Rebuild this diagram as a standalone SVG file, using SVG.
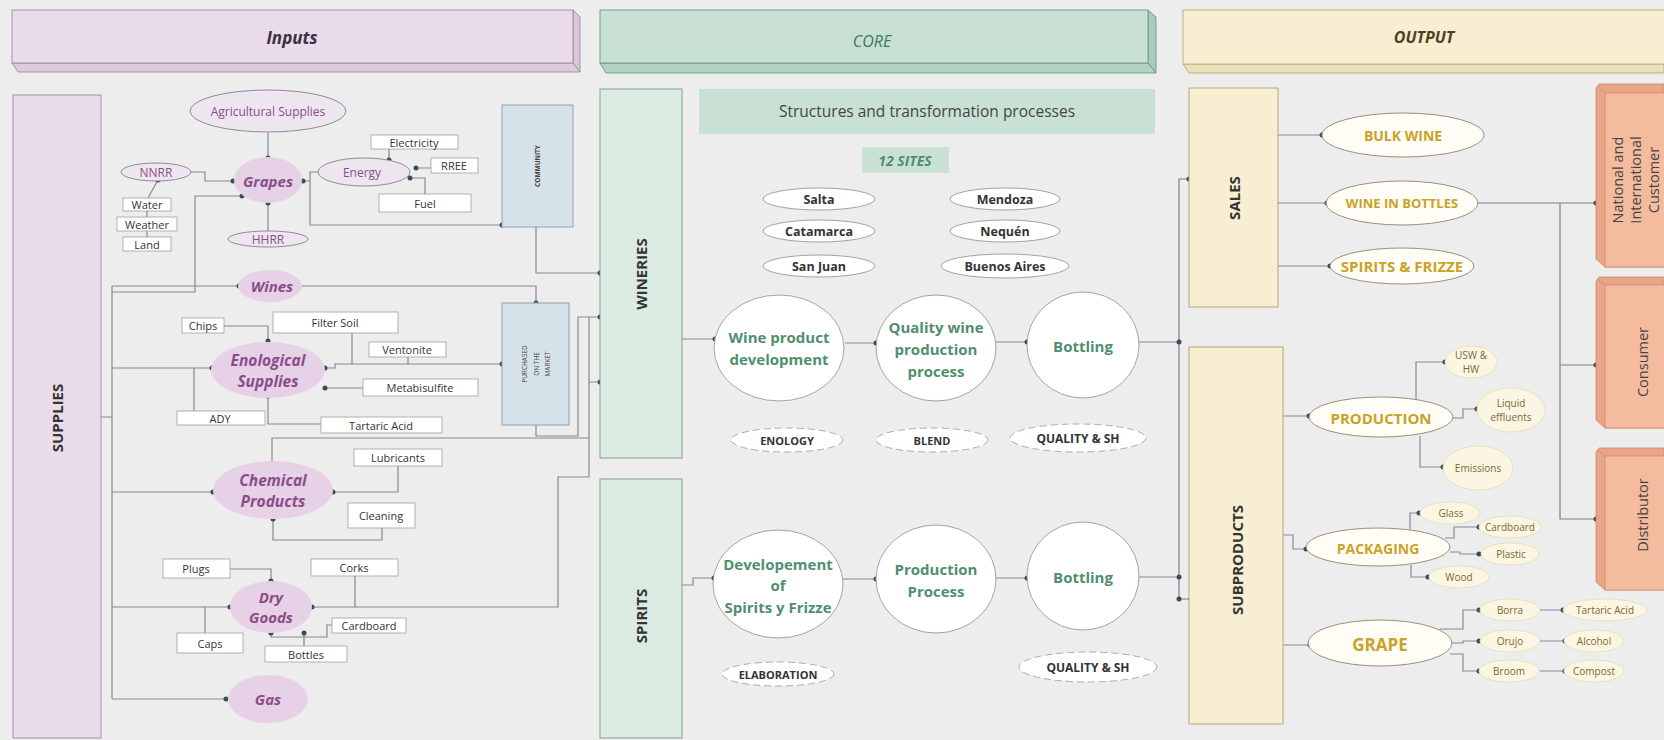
<svg xmlns="http://www.w3.org/2000/svg" width="1664" height="740" viewBox="0 0 1664 740">
<defs><style>
text{font-family:"Open Sans","Liberation Sans",sans-serif}
.w{fill:none;stroke:#858a90;stroke-width:1.2}
.wb{fill:none;stroke:#6f8193;stroke-width:1.2}
.d{fill:#3e4b57}
.bx{fill:#fff;stroke:#a0a0a0;stroke-width:0.8}
.tb{font-size:11px;fill:#333;text-anchor:middle;dominant-baseline:central}
.blob{fill:#e6d1e6}
.pi{font-size:15px;font-weight:bold;font-style:italic;fill:#8a4d8a;text-anchor:middle;dominant-baseline:central}
.po{fill:#eee6ee;stroke:#8a7a92;stroke-width:0.9}
.pt{font-size:12px;fill:#8a4d8a;text-anchor:middle;dominant-baseline:central}
.site{fill:#fff;stroke:#999;stroke-width:0.9}
.st{font-size:12.5px;font-weight:bold;fill:#333;text-anchor:middle;dominant-baseline:central}
.dash{fill:#fff;stroke:#9a9a9a;stroke-width:0.8;stroke-dasharray:7 4}
.dt{font-size:11px;font-weight:bold;fill:#333;text-anchor:middle;dominant-baseline:central}
.circ{fill:#fff;stroke:#9a9a9a;stroke-width:0.9}
.ct{font-size:15px;font-weight:bold;fill:#4f8f6e;text-anchor:middle;dominant-baseline:central}
.oe{fill:#fffdf5;stroke:#8c8470;stroke-width:0.9}
.ot{font-size:14px;font-weight:bold;fill:#c9a227;text-anchor:middle;dominant-baseline:central}
.se{fill:#fbf6e4;stroke:#e6dab0;stroke-width:0.8}
.sot{font-size:10px;fill:#7a6a30;text-anchor:middle;dominant-baseline:central}
.vt{font-size:15px;font-weight:bold;fill:#333;text-anchor:middle;dominant-baseline:central}
.cu{font-size:14.5px;fill:#444;text-anchor:middle;dominant-baseline:central}
.cf{fill:#f5bb9e;stroke:#c88a70;stroke-width:0.8}
.cb{fill:#e9a588;stroke:#c88a70;stroke-width:0.8}
.grn{fill:#c9e1d5}
.tiny{font-size:6.5px;fill:#444;text-anchor:middle;dominant-baseline:central}
</style></defs>
<rect width="1664" height="740" fill="#ededed"/>

<!-- headers -->
<g id="hdr-inputs">
<polygon points="573,10 580,17 580,72 573,63" fill="#d9c6d9" stroke="#9c8aa0" stroke-width="0.9"/>
<polygon points="12,63 573,63 580,72 18,72" fill="#ddcadd" stroke="#9c8aa0" stroke-width="0.9"/>
<rect x="12" y="10" width="561" height="53" fill="#e9dbe9" stroke="#9c8aa0" stroke-width="0.9"/>
<text x="292" y="37" style="font-size:17px;font-weight:bold;font-style:italic;fill:#3b2f45;text-anchor:middle;dominant-baseline:central">Inputs</text>
</g>
<g id="hdr-core">
<polygon points="1148,10 1156,17 1156,73 1148,63" fill="#a9cbb9" stroke="#6a9a80" stroke-width="0.9"/>
<polygon points="600,63 1148,63 1156,73 606,73" fill="#b5d3c3" stroke="#6a9a80" stroke-width="0.9"/>
<rect x="600" y="10" width="548" height="53" fill="#c8e0d4" stroke="#6a9a80" stroke-width="0.9"/>
<text x="872" y="41" style="font-size:16px;font-style:italic;fill:#3f7a5e;text-anchor:middle;dominant-baseline:central">CORE</text>
</g>
<g id="hdr-output">
<polygon points="1183,64 1664,64 1664,73 1189,73" fill="#ece0b8" stroke="#b8a880" stroke-width="0.9"/>
<rect x="1183" y="10" width="490" height="54" fill="#f8efd2" stroke="#b8a880" stroke-width="0.9"/>
<text x="1424" y="37" style="font-size:16px;font-weight:bold;font-style:italic;fill:#4d4220;text-anchor:middle;dominant-baseline:central">OUTPUT</text>
</g>

<!-- connectors -->
<g id="connectors">
<path class="w" d="M101,417H112M112,286V699"/>
<path class="w" d="M242,196H195V292H112"/>
<path class="w" d="M112,286H239"/>
<path class="w" d="M302,286H536V303"/>
<path class="w" d="M268,133V158M268,203V231"/>
<path class="w" d="M191,172H205V181H233"/>
<path class="w" d="M158,180L148,198M147,211V217M147,231V237"/>
<path class="w" d="M303,181H310V172H318"/>
<path class="w" d="M389,149V160M416,168H431M410,178H425V194"/>
<path class="w" d="M310,181V225H502"/>
<path class="w" d="M536,227V273H600"/>
<path class="w" d="M112,368H212M194,368V411"/>
<path class="w" d="M224,326H268V341"/>
<path class="w" d="M325,368H335V364H502M352,333V364M408,357V364"/>
<path class="w" d="M325,388H363"/>
<path class="w" d="M268,396V424H321"/>
<path class="w" d="M536,425V436H578V317H600M589,317V477M589,382H600"/>
<path class="w" d="M272,463V438H589"/>
<path class="w" d="M112,492H213M333,492H398V466M273,519V540H382V528"/>
<path class="w" d="M112,607H230M205,607V633M230,569H271V581M312,607H558V477H589M355,576V607"/>
<path class="w" d="M271,633V637H327V625H333M304,633V646"/>
<path class="w" d="M112,699H226"/>
<path class="w" d="M682,339H715"/>
<path class="w" d="M845,343H876M995,342H1027M1139,342H1179"/>
<path class="w" d="M682,585H693V578H714"/>
<path class="w" d="M843,579H876M995,578H1027M1139,577H1179"/>
<path class="wb" d="M1189,179H1179V599H1191"/>
<path class="w" d="M1278,135H1322M1278,203H1327M1278,266H1330"/>
<path class="wb" d="M1478,203H1596M1560,203V519H1596M1560,365H1596"/>
<path class="w" d="M1283,416H1309M1416,400V362H1445M1453,418H1463V409H1477M1420,436V467H1443"/>
<path class="w" d="M1283,535H1293V549H1306M1410,529V513H1419M1445,538H1454V527H1479M1450,552H1460V554H1479M1411,565V577H1428"/>
<path class="w" d="M1283,645H1310M1440,629H1463V610H1479M1452,643H1463V641H1479M1450,654H1463V671H1479M1540,610H1563M1540,641H1565M1540,671H1565"/>
<g>
<circle class="d" cx="233" cy="181" r="2.5"/><circle class="d" cx="303" cy="181" r="2.5"/><circle class="d" cx="268" cy="158" r="2.5"/><circle class="d" cx="268" cy="203" r="2.5"/><circle class="d" cx="242" cy="196" r="2.5"/>
<circle class="d" cx="158" cy="180" r="2.5"/><circle class="d" cx="389" cy="160" r="2.5"/><circle class="d" cx="416" cy="168" r="2.5"/><circle class="d" cx="410" cy="178" r="2.5"/>
<circle class="d" cx="502" cy="225" r="2.5"/><circle class="d" cx="239" cy="286" r="2.5"/><circle class="d" cx="536" cy="303" r="2.5"/><circle class="d" cx="502" cy="364" r="2.5"/>
<circle class="d" cx="600" cy="273" r="2.5"/><circle class="d" cx="600" cy="317" r="2.5"/><circle class="d" cx="600" cy="382" r="2.5"/>
<circle class="d" cx="268" cy="341" r="2.5"/><circle class="d" cx="212" cy="368" r="2.5"/><circle class="d" cx="325" cy="368" r="2.5"/><circle class="d" cx="325" cy="388" r="2.5"/><circle class="d" cx="268" cy="396" r="2.5"/>
<circle class="d" cx="213" cy="492" r="2.5"/><circle class="d" cx="333" cy="492" r="2.5"/><circle class="d" cx="273" cy="519" r="2.5"/>
<circle class="d" cx="271" cy="581" r="2.5"/><circle class="d" cx="230" cy="607" r="2.5"/><circle class="d" cx="312" cy="607" r="2.5"/><circle class="d" cx="271" cy="633" r="2.5"/><circle class="d" cx="304" cy="633" r="2.5"/>
<circle class="d" cx="226" cy="699" r="2.5"/>
<circle class="d" cx="715" cy="339" r="2.5"/><circle class="d" cx="876" cy="343" r="2.5"/><circle class="d" cx="1027" cy="342" r="2.5"/><circle class="d" cx="1179" cy="342" r="2.5"/>
<circle class="d" cx="714" cy="578" r="2.5"/><circle class="d" cx="876" cy="579" r="2.5"/><circle class="d" cx="1027" cy="578" r="2.5"/><circle class="d" cx="1179" cy="577" r="2.5"/>
<circle class="d" cx="1189" cy="179" r="2.5"/><circle class="d" cx="1179" cy="599" r="2.5"/><circle class="d" cx="1191" cy="599" r="2.5"/>
<circle class="d" cx="1322" cy="135" r="2.5"/><circle class="d" cx="1327" cy="203" r="2.5"/><circle class="d" cx="1330" cy="266" r="2.5"/>
<circle class="d" cx="1596" cy="203" r="2.5"/><circle class="d" cx="1596" cy="365" r="2.5"/><circle class="d" cx="1596" cy="519" r="2.5"/>
<circle class="d" cx="1309" cy="416" r="2.5"/><circle class="d" cx="1445" cy="362" r="2.5"/><circle class="d" cx="1477" cy="409" r="2.5"/><circle class="d" cx="1443" cy="467" r="2.5"/>
<circle class="d" cx="1306" cy="549" r="2.5"/><circle class="d" cx="1419" cy="513" r="2.5"/><circle class="d" cx="1479" cy="527" r="2.5"/><circle class="d" cx="1479" cy="554" r="2.5"/><circle class="d" cx="1428" cy="577" r="2.5"/>
<circle class="d" cx="1310" cy="645" r="2.5"/><circle class="d" cx="1479" cy="610" r="2.5"/><circle class="d" cx="1479" cy="641" r="2.5"/><circle class="d" cx="1479" cy="671" r="2.5"/>
<circle class="d" cx="1563" cy="610" r="2.5"/><circle class="d" cx="1565" cy="641" r="2.5"/><circle class="d" cx="1565" cy="671" r="2.5"/>
</g>
</g>

<!-- inputs -->
<g id="supplies"><rect x="13" y="95" width="88" height="643" fill="#eadcea" stroke="#9c8aa0" stroke-width="0.9"/><text class="vt" x="57" y="418" transform="rotate(-90 57 418)">SUPPLIES</text></g>
<g id="agri"><ellipse class="po" cx="268" cy="111" rx="78" ry="21"/><text class="pt" x="268" y="111">Agricultural Supplies</text></g>
<g id="grapes"><ellipse class="blob" cx="268" cy="180" rx="34" ry="23"/><text class="pi" x="268" y="181">Grapes</text></g>
<g id="hhrr"><ellipse class="po" cx="268" cy="239" rx="40" ry="8"/><text class="pt" x="268" y="239">HHRR</text></g>
<g id="nnrr"><ellipse class="po" cx="156" cy="172" rx="35" ry="9"/><text class="pt" x="156" y="172">NNRR</text></g>
<g id="water"><rect class="bx" x="123" y="198" width="48" height="13"/><text class="tb" x="147" y="204.5">Water</text></g>
<g id="weather"><rect class="bx" x="117" y="217" width="60" height="14"/><text class="tb" x="147" y="224">Weather</text></g>
<g id="land"><rect class="bx" x="123" y="237" width="48" height="14"/><text class="tb" x="147" y="244">Land</text></g>
<g id="energy"><ellipse class="po" cx="364" cy="172" rx="46" ry="14"/><text class="pt" x="362" y="172">Energy</text></g>
<g id="electricity"><rect class="bx" x="371" y="135" width="87" height="14"/><text class="tb" x="414" y="142">Electricity</text></g>
<g id="rree"><rect class="bx" x="431" y="158" width="47" height="15"/><text class="tb" x="454" y="165.5">RREE</text></g>
<g id="fuel"><rect class="bx" x="379" y="194" width="92" height="18"/><text class="tb" x="425" y="203">Fuel</text></g>
<g id="community"><rect x="502" y="105" width="71" height="122" fill="#d6e2ea" stroke="#8a9aa8" stroke-width="0.9"/><text class="tiny" x="537" y="166" transform="rotate(-90 537 166)" style="font-weight:bold">COMMUNITY</text></g>
<g id="wines"><ellipse class="blob" cx="270" cy="286" rx="32" ry="16"/><text class="pi" x="272" y="286">Wines</text></g>
<g id="enological"><ellipse class="blob" cx="268" cy="370" rx="57" ry="28"/><text class="pi" x="268" y="360" style="font-size:15.5px">Enological</text><text class="pi" x="268" y="381" style="font-size:15.5px">Supplies</text></g>
<g id="chips"><rect class="bx" x="182" y="318" width="42" height="15"/><text class="tb" x="203" y="325.5">Chips</text></g>
<g id="filtersoil"><rect class="bx" x="273" y="312" width="125" height="21"/><text class="tb" x="335" y="322.5">Filter Soil</text></g>
<g id="ventonite"><rect class="bx" x="369" y="342" width="77" height="15"/><text class="tb" x="407" y="349.5">Ventonite</text></g>
<g id="metabisulfite"><rect class="bx" x="363" y="379" width="115" height="17"/><text class="tb" x="420" y="387.5">Metabisulfite</text></g>
<g id="tartaric"><rect class="bx" x="321" y="417" width="121" height="16"/><text class="tb" x="381" y="425">Tartaric Acid</text></g>
<g id="ady"><rect class="bx" x="177" y="411" width="88" height="14"/><text class="tb" x="220" y="418">ADY</text></g>
<g id="purchased"><rect x="502" y="303" width="67" height="122" fill="#d6e2ea" stroke="#8a9aa8" stroke-width="0.9"/>
<text class="tiny" x="524" y="364" transform="rotate(-90 524 364)">PURCHASED</text><text class="tiny" x="536" y="364" transform="rotate(-90 536 364)">ON THE</text><text class="tiny" x="547" y="364" transform="rotate(-90 547 364)">MARKET</text></g>
<g id="chemical"><ellipse class="blob" cx="273" cy="490" rx="60" ry="29"/><text class="pi" x="273" y="480" style="font-size:15.5px">Chemical</text><text class="pi" x="273" y="501" style="font-size:15.5px">Products</text></g>
<g id="lubricants"><rect class="bx" x="354" y="449" width="88" height="17"/><text class="tb" x="398" y="457.5">Lubricants</text></g>
<g id="cleaning"><rect class="bx" x="348" y="503" width="67" height="25"/><text class="tb" x="381" y="515.5">Cleaning</text></g>
<g id="drygoods"><ellipse class="blob" cx="271" cy="607" rx="41" ry="26"/><text class="pi" x="271" y="597">Dry</text><text class="pi" x="271" y="617">Goods</text></g>
<g id="plugs"><rect class="bx" x="163" y="559" width="67" height="19"/><text class="tb" x="196" y="568.5">Plugs</text></g>
<g id="corks"><rect class="bx" x="311" y="559" width="87" height="17"/><text class="tb" x="354" y="567.5">Corks</text></g>
<g id="caps"><rect class="bx" x="177" y="633" width="66" height="20"/><text class="tb" x="210" y="643">Caps</text></g>
<g id="bottles"><rect class="bx" x="265" y="646" width="82" height="16"/><text class="tb" x="306" y="654">Bottles</text></g>
<g id="cardboard-in"><rect class="bx" x="332" y="618" width="74" height="15"/><text class="tb" x="369" y="625.5">Cardboard</text></g>
<g id="gas"><ellipse class="blob" cx="268" cy="699" rx="40" ry="24"/><text class="pi" x="268" y="699">Gas</text></g>

<!-- core -->
<g id="wineries"><rect x="600" y="89" width="82" height="369" fill="#dcebe2" stroke="#7a9a88" stroke-width="0.9"/><text class="vt" x="641" y="274" transform="rotate(-90 641 274)">WINERIES</text></g>
<g id="spirits"><rect x="600" y="479" width="82" height="259" fill="#dcebe2" stroke="#7a9a88" stroke-width="0.9"/><text class="vt" x="641" y="616" transform="rotate(-90 641 616)">SPIRITS</text></g>
<g id="structures"><rect class="grn" x="699" y="89" width="456" height="45"/><text x="927" y="111" style="font-size:15.5px;fill:#444;text-anchor:middle;dominant-baseline:central">Structures and transformation processes</text></g>
<g id="sites12"><rect class="grn" x="862" y="147" width="87" height="26"/><text x="905" y="160" style="font-size:14px;font-weight:bold;font-style:italic;fill:#4f8f6e;text-anchor:middle;dominant-baseline:central">12 SITES</text></g>
<g id="salta"><ellipse class="site" cx="819" cy="199" rx="56" ry="11"/><text class="st" x="819" y="199">Salta</text></g>
<g id="mendoza"><ellipse class="site" cx="1005" cy="199" rx="55" ry="11"/><text class="st" x="1005" y="199">Mendoza</text></g>
<g id="catamarca"><ellipse class="site" cx="819" cy="231" rx="56" ry="11"/><text class="st" x="819" y="231">Catamarca</text></g>
<g id="nequen"><ellipse class="site" cx="1005" cy="231" rx="55" ry="11"/><text class="st" x="1005" y="231">Nequén</text></g>
<g id="sanjuan"><ellipse class="site" cx="819" cy="266" rx="56" ry="11"/><text class="st" x="819" y="266">San Juan</text></g>
<g id="buenosaires"><ellipse class="site" cx="1005" cy="266" rx="64" ry="12"/><text class="st" x="1005" y="266">Buenos Aires</text></g>
<g id="wpd"><ellipse class="circ" cx="779" cy="348" rx="65" ry="53"/><text class="ct" x="779" y="337">Wine product</text><text class="ct" x="779" y="359">development</text></g>
<g id="qwpp"><ellipse class="circ" cx="936" cy="348" rx="60" ry="53"/><text class="ct" x="936" y="327">Quality wine</text><text class="ct" x="936" y="349">production</text><text class="ct" x="936" y="371">process</text></g>
<g id="bottling1"><ellipse class="circ" cx="1083" cy="345" rx="56" ry="53"/><text class="ct" x="1083" y="346">Bottling</text></g>
<g id="enology"><ellipse class="dash" cx="787" cy="440" rx="56" ry="12"/><text class="dt" x="787" y="440">ENOLOGY</text></g>
<g id="blend"><ellipse class="dash" cx="932" cy="440" rx="56" ry="12"/><text class="dt" x="932" y="440">BLEND</text></g>
<g id="qsh1"><ellipse class="dash" cx="1078" cy="438" rx="68" ry="14"/><text class="dt" x="1078" y="438" style="font-size:12px">QUALITY &amp; SH</text></g>
<g id="devspirits"><ellipse class="circ" cx="778" cy="584" rx="65" ry="54"/><text class="ct" x="778" y="564">Developement</text><text class="ct" x="778" y="585">of</text><text class="ct" x="778" y="607">Spirits y Frizze</text></g>
<g id="prodproc"><ellipse class="circ" cx="936" cy="579" rx="60" ry="54"/><text class="ct" x="936" y="569">Production</text><text class="ct" x="936" y="591">Process</text></g>
<g id="bottling2"><ellipse class="circ" cx="1083" cy="576" rx="56" ry="54"/><text class="ct" x="1083" y="577">Bottling</text></g>
<g id="elaboration"><ellipse class="dash" cx="778" cy="674" rx="56" ry="12"/><text class="dt" x="778" y="674">ELABORATION</text></g>
<g id="qsh2"><ellipse class="dash" cx="1088" cy="667" rx="69" ry="15"/><text class="dt" x="1088" y="667" style="font-size:12px">QUALITY &amp; SH</text></g>

<!-- output -->
<g id="sales"><rect x="1189" y="88" width="89" height="219" fill="#f8efd2" stroke="#b0a070" stroke-width="0.9"/><text class="vt" x="1234" y="198" transform="rotate(-90 1234 198)">SALES</text></g>
<g id="subproducts"><rect x="1189" y="347" width="94" height="377" fill="#f8efd2" stroke="#b0a070" stroke-width="0.9"/><text class="vt" x="1237" y="560" transform="rotate(-90 1237 560)">SUBPRODUCTS</text></g>
<g id="bulkwine"><ellipse class="oe" cx="1403" cy="135" rx="81" ry="22"/><text class="ot" x="1403" y="135">BULK WINE</text></g>
<g id="wineinbottles"><ellipse class="oe" cx="1402" cy="203" rx="76" ry="22"/><text class="ot" x="1402" y="203" style="font-size:13px">WINE IN BOTTLES</text></g>
<g id="spiritsfrizze"><ellipse class="oe" cx="1402" cy="266" rx="72" ry="18"/><text class="ot" x="1402" y="266" style="font-size:15px">SPIRITS &amp; FRIZZE</text></g>
<g id="production"><ellipse class="oe" cx="1381" cy="417" rx="72" ry="20"/><text class="ot" x="1381" y="418" style="font-size:15px">PRODUCTION</text></g>
<g id="usw"><ellipse class="se" cx="1471" cy="362" rx="26" ry="16"/><text class="sot" x="1471" y="355">USW &amp;</text><text class="sot" x="1471" y="369">HW</text></g>
<g id="liquid"><ellipse class="se" cx="1511" cy="410" rx="34" ry="22"/><text class="sot" x="1511" y="403">Liquid</text><text class="sot" x="1511" y="417">effluents</text></g>
<g id="emissions"><ellipse class="se" cx="1478" cy="468" rx="35" ry="22"/><text class="sot" x="1478" y="468">Emissions</text></g>
<g id="packaging"><ellipse class="oe" cx="1378" cy="547" rx="72" ry="19"/><text class="ot" x="1378" y="548">PACKAGING</text></g>
<g id="glass"><ellipse class="se" cx="1450" cy="513" rx="30" ry="11"/><text class="sot" x="1451" y="513">Glass</text></g>
<g id="cardboard-out"><ellipse class="se" cx="1510" cy="527" rx="31" ry="11"/><text class="sot" x="1510" y="527">Cardboard</text></g>
<g id="plastic"><ellipse class="se" cx="1510" cy="554" rx="29" ry="11"/><text class="sot" x="1511" y="554">Plastic</text></g>
<g id="wood"><ellipse class="se" cx="1459" cy="577" rx="30" ry="11"/><text class="sot" x="1459" y="577">Wood</text></g>
<g id="grape"><ellipse class="oe" cx="1380" cy="643" rx="72" ry="23"/><text class="ot" x="1380" y="644" style="font-size:17px">GRAPE</text></g>
<g id="borra"><ellipse class="se" cx="1510" cy="610" rx="30" ry="11"/><text class="sot" x="1510" y="610">Borra</text></g>
<g id="orujo"><ellipse class="se" cx="1510" cy="641" rx="30" ry="11"/><text class="sot" x="1510" y="641">Orujo</text></g>
<g id="broom"><ellipse class="se" cx="1509" cy="671" rx="30" ry="11"/><text class="sot" x="1509" y="671">Broom</text></g>
<g id="tartaric-out"><ellipse class="se" cx="1605" cy="610" rx="42" ry="11"/><text class="sot" x="1605" y="610">Tartaric Acid</text></g>
<g id="alcohol"><ellipse class="se" cx="1594" cy="641" rx="30" ry="11"/><text class="sot" x="1594" y="641">Alcohol</text></g>
<g id="compost"><ellipse class="se" cx="1594" cy="671" rx="30" ry="11"/><text class="sot" x="1594" y="671">Compost</text></g>
<g id="customer"><polygon class="cb" points="1596,88 1599,84 1664,84 1664,267 1605,267 1596,259"/><rect class="cf" x="1605" y="93" width="62" height="174"/><line x1="1597" y1="86" x2="1605" y2="93" stroke="#c88a70" stroke-width="0.8"/>
<text class="cu" x="1617" y="180" transform="rotate(-90 1617 180)">National and</text><text class="cu" x="1635" y="180" transform="rotate(-90 1635 180)">International</text><text class="cu" x="1653" y="180" transform="rotate(-90 1653 180)">Customer</text></g>
<g id="consumer"><polygon class="cb" points="1596,281 1599,277 1664,277 1664,428 1605,428 1596,420"/><rect class="cf" x="1605" y="285" width="62" height="143"/><line x1="1597" y1="279" x2="1605" y2="285" stroke="#c88a70" stroke-width="0.8"/>
<text class="cu" x="1642" y="362" transform="rotate(-90 1642 362)">Consumer</text></g>
<g id="distributor"><polygon class="cb" points="1596,452 1599,448 1664,448 1664,590 1605,590 1596,582"/><rect class="cf" x="1605" y="456" width="62" height="134"/><line x1="1597" y1="450" x2="1605" y2="456" stroke="#c88a70" stroke-width="0.8"/>
<text class="cu" x="1642" y="515" transform="rotate(-90 1642 515)">Distributor</text></g>
</svg>
